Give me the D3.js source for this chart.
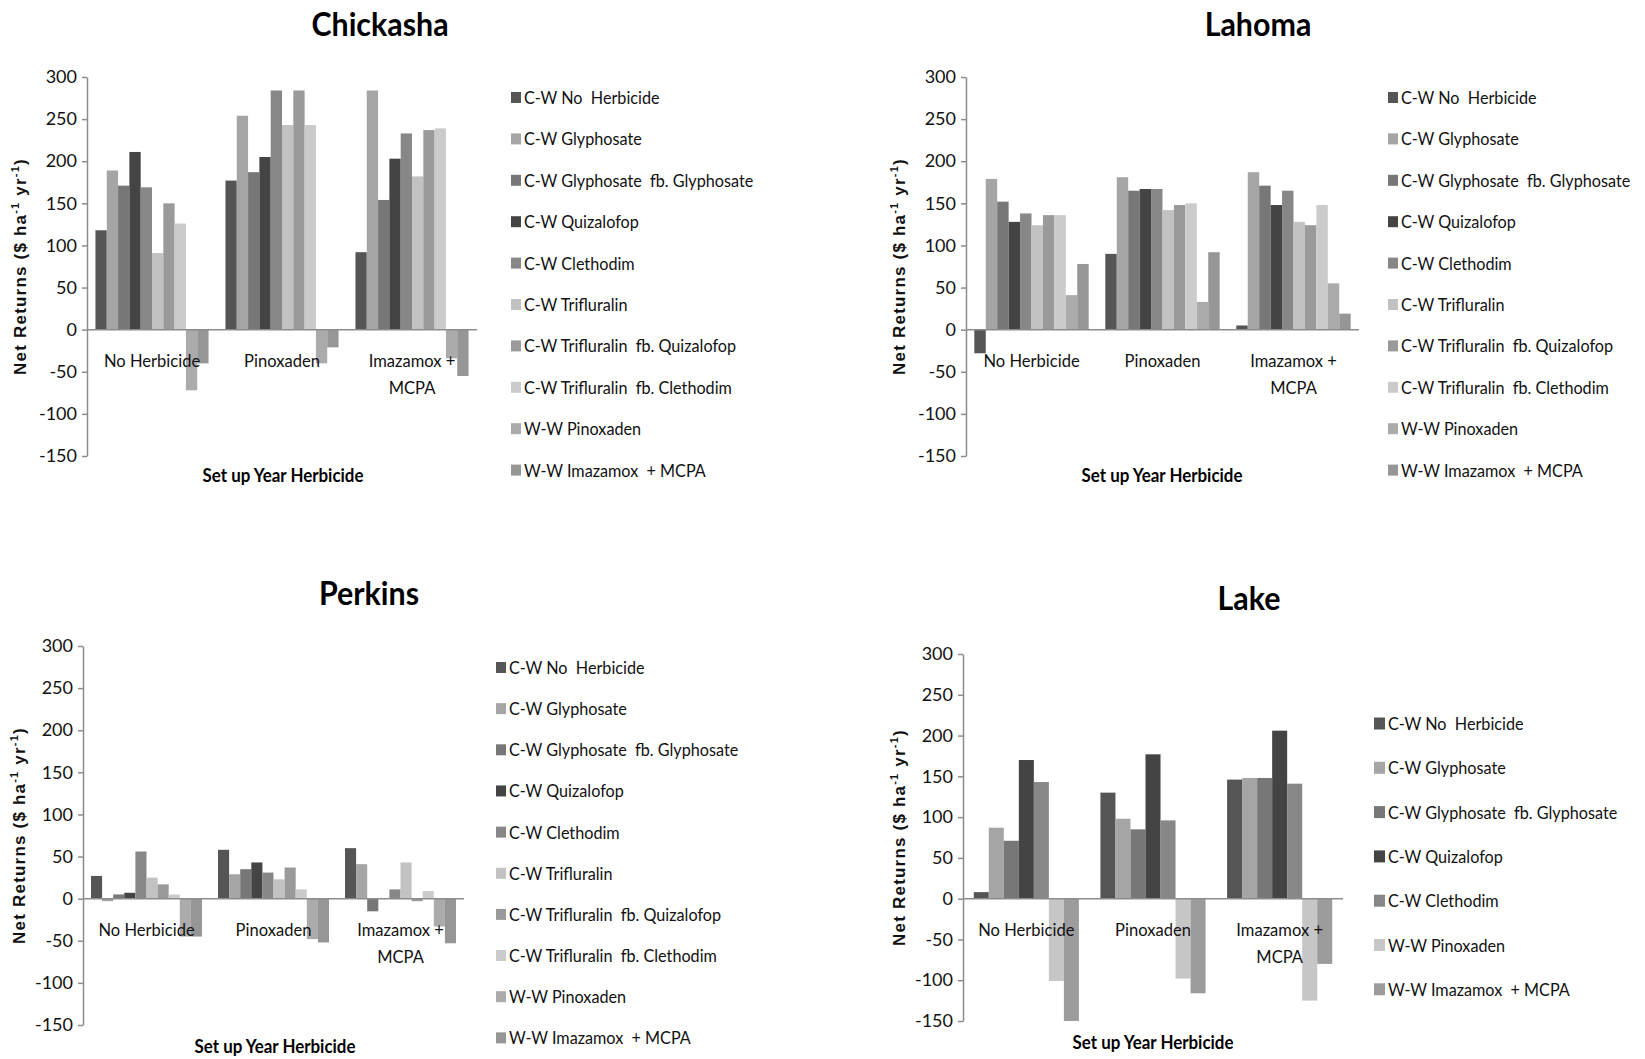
<!DOCTYPE html>
<html>
<head>
<meta charset="utf-8">
<script src="https://cdn.jsdelivr.net/npm/d3@7"></script>
<style>
  html, body { margin: 0; padding: 0; background: #ffffff; }
  svg { display: block; }
  .narrow { font-family: Lato, "Open Sans", sans-serif; }
</style>
</head>
<body>
<svg id="chart" width="1645" height="1059"></svg>
<script>
// Set-up year herbicide treatments (x categories)
const categories = ["No Herbicide", "Pinoxaden", "Imazamox + MCPA"];

// Rotation / herbicide programs (legend entries)
const seriesFull = [
  "C-W No  Herbicide",
  "C-W Glyphosate",
  "C-W Glyphosate  fb. Glyphosate",
  "C-W Quizalofop",
  "C-W Clethodim",
  "C-W Trifluralin",
  "C-W Trifluralin  fb. Quizalofop",
  "C-W Trifluralin  fb. Clethodim",
  "W-W Pinoxaden",
  "W-W Imazamox  + MCPA"
];
const seriesLake = [
  "C-W No  Herbicide",
  "C-W Glyphosate",
  "C-W Glyphosate  fb. Glyphosate",
  "C-W Quizalofop",
  "C-W Clethodim",
  "W-W Pinoxaden",
  "W-W Imazamox  + MCPA"
];

// Net returns ($ ha-1 yr-1), one row per series, one value per category
const chickashaValues = [
  [118, 177, 92],
  [189, 254, 284],
  [171, 187, 154],
  [211, 205, 203],
  [169, 284, 233],
  [91, 243, 182],
  [150, 284, 237],
  [126, 243, 239],
  [-72, -40, -34],
  [-40, -21, -55]
];
const lahomaValues = [
  [-28, 90, 5],
  [179, 181, 187],
  [152, 165, 171],
  [128, 167, 148],
  [138, 167, 165],
  [124, 142, 128],
  [136, 148, 124],
  [136, 150, 148],
  [41, 33, 55],
  [78, 92, 19]
];
const perkinsValues = [
  [27, 58, 60],
  [-3, 29, 41],
  [5, 35, -15],
  [7, 43, 0],
  [56, 31, 11],
  [25, 23, 43],
  [17, 37, -3],
  [5, 11, 9],
  [-45, -48, -33],
  [-45, -52, -53]
];
const lakeValues = [
  [8, 130, 146],
  [87, 98, 148],
  [71, 85, 148],
  [170, 177, 206],
  [143, 96, 141],
  [-101, -98, -125],
  [-150, -116, -80]
];

// Value axis ticks
const yTicks = [300, 250, 200, 150, 100, 50, 0, -50, -100, -150];
const yDomain = [-150, 300];

// Grey fills for the series
const greysFull = ["#555555", "#a5a5a5", "#777777", "#444444", "#878787",
                   "#c2c2c2", "#9a9a9a", "#cbcbcb", "#ababab", "#969696"];
const greysLake = ["#555555", "#a5a5a5", "#777777", "#444444", "#878787",
                   "#c6c6c6", "#9c9c9c"];

// Panel layout
const panels = [
  { title: "Chickasha", values: chickashaValues, names: seriesFull, colors: greysFull,
    x0: 87, x1: 477, yTop: 77, yBot: 456, gap: 0.13,
    titleX: 380, titleY: 36, ylabX: 26, xlabX: 283, xlabY: 482,
    legX: 511, legY: 98, legStep: 41.4, sw: 10 },
  { title: "Lahoma", values: lahomaValues, names: seriesFull, colors: greysFull,
    x0: 966, x1: 1359, yTop: 77, yBot: 456, gap: 0.127,
    titleX: 1258, titleY: 36, ylabX: 905, xlabX: 1162, xlabY: 482,
    legX: 1388, legY: 98, legStep: 41.4, sw: 10 },
  { title: "Perkins", values: perkinsValues, names: seriesFull, colors: greysFull,
    x0: 83, x1: 464, yTop: 646, yBot: 1025, gap: 0.126,
    titleX: 369, titleY: 605, ylabX: 25, xlabX: 275, xlabY: 1053,
    legX: 496, legY: 668, legStep: 41.15, sw: 10 },
  { title: "Lake", values: lakeValues, names: seriesLake, colors: greysLake,
    x0: 963, x1: 1343, yTop: 654, yBot: 1021, gap: 0.17,
    titleX: 1249, titleY: 610, ylabX: 905, xlabX: 1153, xlabY: 1049,
    legX: 1374, legY: 724, legStep: 44.3, sw: 11 }
];

const svg = d3.select("#chart");
const axisGrey = "#8c8c8c";

// Text placed at (x, y) and narrowed horizontally by factor sx
function placeText(parent, x, y, sx) {
  return parent.append("text")
    .attr("class", "narrow")
    .attr("transform", `translate(${x},${y}) scale(${sx},1)`);
}

panels.forEach(p => {
  const g = svg.append("g");

  const x = d3.scaleBand()
    .domain(categories)
    .range([p.x0, p.x1])
    .paddingInner(p.gap)
    .paddingOuter(p.gap / 2);

  const xs = d3.scaleBand()
    .domain(d3.range(p.names.length))
    .range([0, x.bandwidth()]);

  const y = d3.scaleLinear().domain(yDomain).range([p.yBot, p.yTop]);

  // Bars
  p.values.forEach((row, si) => {
    g.append("g")
      .attr("fill", p.colors[si])
      .selectAll("rect")
      .data(row.map((v, ci) => ({ v, cat: categories[ci] })))
      .join("rect")
      .attr("x", d => x(d.cat) + xs(si))
      .attr("width", xs.bandwidth())
      .attr("y", d => y(Math.max(0, d.v)))
      .attr("height", d => Math.abs(y(d.v) - y(0)));
  });

  // Zero line (category axis)
  g.append("line")
    .attr("x1", p.x0).attr("x2", p.x1)
    .attr("y1", y(0)).attr("y2", y(0))
    .attr("stroke", axisGrey).attr("stroke-width", 1.5);

  // Value axis
  const yAxis = g.append("g")
    .attr("transform", `translate(${p.x0},0)`)
    .call(d3.axisLeft(y).tickValues(yTicks).tickFormat(d => String(d))
      .tickSize(5).tickSizeOuter(0).tickPadding(5));
  yAxis.attr("font-family", null).attr("font-size", null);
  yAxis.select(".domain").attr("stroke", axisGrey).attr("stroke-width", 1.5);
  yAxis.selectAll(".tick line").attr("stroke", axisGrey).attr("stroke-width", 1.5);
  yAxis.selectAll(".tick text")
    .attr("class", "narrow")
    .attr("font-size", 18)
    .attr("fill", "#111");

  // Category labels under the zero line
  categories.forEach(c => {
    const cx = x(c) + x.bandwidth() / 2;
    const t = placeText(g, cx, y(0) + 37, 0.92)
      .attr("text-anchor", "middle")
      .attr("font-size", 18)
      .attr("fill", "#111");
    if (c === "Imazamox + MCPA") {
      t.append("tspan").attr("x", 0).text("Imazamox +");
      t.append("tspan").attr("x", 0).attr("dy", 27).text("MCPA");
    } else {
      t.text(c);
    }
  });

  // Panel title
  placeText(g, p.titleX, p.titleY, 0.95)
    .attr("text-anchor", "middle")
    .attr("font-size", 32)
    .attr("font-weight", "bold")
    .text(p.title);

  // Category axis title
  placeText(g, p.xlabX, p.xlabY, 0.94)
    .attr("text-anchor", "middle")
    .attr("font-size", 18)
    .attr("font-weight", "bold")
    .text("Set up Year Herbicide");

  // Value axis title with superscript units
  const ymid = (p.yTop + p.yBot) / 2;
  const yl = g.append("text")
    .attr("transform", `translate(${p.ylabX},${ymid}) rotate(-90)`)
    .attr("text-anchor", "middle")
    .attr("font-family", "'Liberation Sans', Arial, sans-serif")
    .attr("font-size", 17)
    .attr("font-weight", "bold")
    .attr("letter-spacing", 1.2)
    .attr("fill", "#111");
  yl.append("tspan").text("Net Returns ($ ha");
  yl.append("tspan").attr("dy", -7).attr("font-size", 11).text("-1");
  yl.append("tspan").attr("dy", 7).text(" yr");
  yl.append("tspan").attr("dy", -7).attr("font-size", 11).text("-1");
  yl.append("tspan").attr("dy", 7).text(")");

  // Legend
  const leg = g.append("g");
  p.names.forEach((n, i) => {
    const ly = p.legY + i * p.legStep;
    leg.append("rect")
      .attr("x", p.legX).attr("y", ly - p.sw / 2 - 1)
      .attr("width", p.sw).attr("height", p.sw + 1)
      .attr("fill", p.colors[i]);
    placeText(leg, p.legX + p.sw + 3, ly + 6, 0.9)
      .attr("font-size", 18)
      .attr("fill", "#111")
      .style("white-space", "pre")
      .text(n);
  });
});
</script>
</body>
</html>
